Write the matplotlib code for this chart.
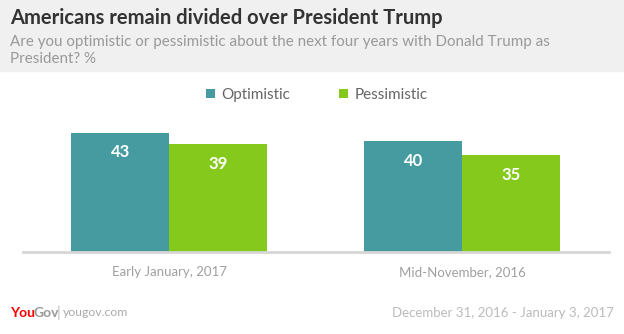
import matplotlib
matplotlib.use("Agg")
import matplotlib.pyplot as plt
import numpy as np

categories = ["Early January, 2017", "Mid-November, 2016"]
optimistic = [43, 40]
pessimistic = [39, 35]
series_names = ["Optimistic", "Pessimistic"]

teal = "#459b9f"
green = "#84c91c"

plt.rcParams['font.family'] = ['Lato', 'DejaVu Sans']

fig = plt.figure(figsize=(6.24, 3.34), dpi=100)
W, H = 624, 334

# header band
fig.patches.append(plt.Rectangle((0, 1 - 71 / H), 1, 71 / H, transform=fig.transFigure,
                                 color="#f0f0f0", zorder=0))
fig.text(10 / W, 1 - 18 / H, "Americans remain divided over President Trump",
         fontsize=14.5, fontweight="bold", color="#333333", va="center")
fig.text(10 / W, 1 - 42 / H,
         "Are you optimistic or pessimistic about the next four years with Donald Trump as",
         fontsize=10.9, color="#999999", va="center")
fig.text(10 / W, 1 - 59 / H, "President? %", fontsize=10.9, color="#999999", va="center")

# plot area
x0, x1 = 22.5, 608.5
ytop, ybot = 86, 252
ax = fig.add_axes([x0 / W, 1 - ybot / H, (x1 - x0) / W, (ybot - ytop) / H])
x = np.arange(len(categories))
w = 1 / 3
b1 = ax.bar(x - w / 2, optimistic, w, color=teal, label=series_names[0])
b2 = ax.bar(x + w / 2, pessimistic, w, color=green, label=series_names[1])
ax.set_xlim(-0.5, len(categories) - 0.5)
ax.set_ylim(0, 60)
for bars in (b1, b2):
    for r in bars:
        ax.annotate(f"{r.get_height():.0f}", (r.get_x() + r.get_width() / 2, r.get_height()),
                    xytext=(0, -14), textcoords="offset points", ha="center", va="center",
                    color="white", fontsize=12, fontweight="bold")
for s in ["top", "right", "left"]:
    ax.spines[s].set_visible(False)
ax.spines["bottom"].set_color("#d6d6d6")
ax.spines["bottom"].set_linewidth(2)
ax.set_yticks([])
ax.set_xticks(x)
ax.set_xticklabels(categories, color="#a0a0a0", fontsize=9.5)
ax.tick_params(axis="x", length=0, pad=10)

leg = fig.legend(handles=[b1, b2], loc="center", bbox_to_anchor=(317 / W, 1 - 95 / H),
                 ncol=2, frameon=False, fontsize=11, handlelength=0.6, handleheight=0.6,
                 handletextpad=0.4, columnspacing=3.2, labelcolor="#666666")

# footer
fig.text(10 / W, 1 - 313 / H, "You", fontsize=10, fontweight="bold", color="#ff0000",
         va="center")
fig.text(33 / W, 1 - 313 / H, "Gov", fontsize=10, fontweight="bold", color="#999999",
         va="center")
fig.text(57 / W, 1 - 313 / H, "|", fontsize=11, color="#bbbbbb", va="center")
fig.text(63 / W, 1 - 313 / H, "yougov.com", fontsize=8.8, color="#aaaaaa", va="center")
fig.text(614 / W, 1 - 313 / H, "December 31, 2016 - January 3, 2017", fontsize=9.5,
         color="#bbbbbb", va="center", ha="right")

fig.savefig("out.png", dpi=100)
